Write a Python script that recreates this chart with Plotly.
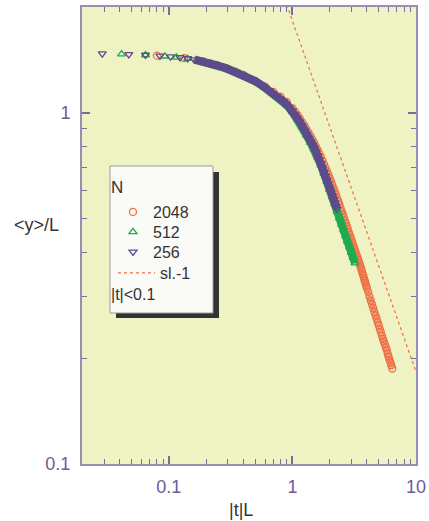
import plotly.graph_objects as go

# ---- data ----
x256 = [0.0289, 0.0474, 0.0647, 0.0845, 0.103, 0.123, 0.142, 0.161, 0.18, 0.2,
        0.22, 0.25, 0.28, 0.31, 0.35, 0.4, 0.45, 0.5, 0.55, 0.6,
        0.65, 0.7, 0.75, 0.8, 0.85, 0.9, 0.95, 1.0, 1.05, 1.1,
        1.15, 1.2, 1.25, 1.3, 1.35, 1.4, 1.45, 1.5, 1.55, 1.6,
        1.65, 1.7, 1.75, 1.8, 1.85, 1.9, 1.95, 2.0, 2.05, 2.1,
        2.15, 2.2, 2.25, 2.29]
y256 = [1.473, 1.466, 1.46, 1.452, 1.445, 1.437, 1.427, 1.417, 1.406, 1.393,
        1.381, 1.362, 1.345, 1.327, 1.305, 1.28, 1.255, 1.23, 1.205, 1.181,
        1.158, 1.136, 1.115, 1.095, 1.075, 1.055, 1.033, 1.01, 0.986, 0.962,
        0.94, 0.918, 0.893, 0.87, 0.849, 0.83, 0.812, 0.795, 0.775, 0.755,
        0.735, 0.716, 0.697, 0.678, 0.66, 0.643, 0.626, 0.61, 0.596, 0.582,
        0.568, 0.555, 0.542, 0.532]

x512 = [0.0414, 0.0647, 0.0929, 0.115, 0.142, 0.168, 0.195, 0.22, 0.25, 0.3,
        0.35, 0.4, 0.5, 0.6, 0.7, 0.8, 0.9, 1.0, 1.1, 1.2,
        1.3, 1.4, 1.5, 1.6, 1.7, 1.8, 1.9, 2.0, 2.1, 2.2,
        2.3, 2.4, 2.5, 2.6, 2.7, 2.8, 2.9, 3.0, 3.1, 3.21]
y512 = [1.468, 1.46, 1.448, 1.438, 1.425, 1.412, 1.396, 1.381, 1.362, 1.333,
        1.305, 1.278, 1.228, 1.178, 1.132, 1.09, 1.05, 1.005, 0.956, 0.91,
        0.862, 0.822, 0.787, 0.748, 0.709, 0.671, 0.637, 0.604, 0.576, 0.549,
        0.523, 0.501, 0.481, 0.463, 0.446, 0.43, 0.415, 0.4, 0.387, 0.373]

x2048 = [0.08, 0.133, 0.187, 0.24, 0.294, 0.347, 0.4, 0.5, 0.6, 0.7,
         0.8, 0.9, 1.0, 1.05, 1.1, 1.15, 1.2, 1.25, 1.3, 1.35,
         1.4, 1.45, 1.5, 1.55, 1.6, 1.65, 1.7, 1.75, 1.8, 1.85,
         1.9, 1.95, 2.0, 2.05, 2.1, 2.15, 2.2, 2.25, 2.3, 2.35,
         2.4, 2.45, 2.5, 2.55, 2.6, 2.65, 2.7, 2.75, 2.8, 2.85,
         2.9, 2.95, 3.0, 3.05, 3.1, 3.15, 3.2, 3.25, 3.3, 3.35,
         3.4, 3.45, 3.5, 3.55, 3.6, 3.65, 3.7, 3.75, 3.8, 3.85,
         3.9, 3.95, 4.0, 4.1, 4.2, 4.3, 4.4, 4.5, 4.6, 4.7,
         4.8, 4.9, 5.0, 5.1, 5.2, 5.3, 5.4, 5.5, 5.6, 5.7,
         5.8, 5.9, 6.0, 6.1, 6.2, 6.3, 6.43]
y2048 = [1.454, 1.431, 1.401, 1.368, 1.337, 1.307, 1.282, 1.232, 1.187, 1.146,
         1.111, 1.074, 1.03, 1.007, 0.985, 0.962, 0.94, 0.918, 0.897, 0.877,
         0.857, 0.838, 0.82, 0.801, 0.783, 0.765, 0.748, 0.731, 0.714, 0.698,
         0.682, 0.667, 0.652, 0.638, 0.624, 0.61, 0.597, 0.584, 0.571, 0.559,
         0.547, 0.535, 0.524, 0.514, 0.504, 0.494, 0.485, 0.476, 0.467, 0.458,
         0.45, 0.442, 0.435, 0.427, 0.42, 0.413, 0.407, 0.4, 0.394, 0.388,
         0.382, 0.376, 0.371, 0.365, 0.36, 0.354, 0.348, 0.343, 0.337, 0.332,
         0.327, 0.322, 0.317, 0.309, 0.3, 0.292, 0.285, 0.278, 0.271, 0.265,
         0.259, 0.253, 0.248, 0.242, 0.237, 0.232, 0.227, 0.223, 0.219, 0.215,
         0.211, 0.206, 0.202, 0.198, 0.195, 0.191, 0.187]

slope_x = [0.9, 10.0]
slope_y = [2.03, 0.183]

x_ticks = [0.1, 1, 10]
x_ticktext = ["0.1", "1", "10"]
y_ticks = [0.1, 1]
y_ticktext = ["0.1", "1"]
x_minor = [0.03, 0.04, 0.05, 0.06, 0.07, 0.08, 0.09,
           0.2, 0.3, 0.4, 0.5, 0.6, 0.7, 0.8, 0.9,
           2, 3, 4, 5, 6, 7, 8, 9]
y_minor = [0.2, 0.3, 0.4, 0.5, 0.6, 0.7, 0.8, 0.9]

# ---- styles ----
C_OR = "#ef6e45"
C_OR_BAND = "rgba(239,110,69,0.6)"
C_GR = "#1faa4f"
C_PU = "#5e4b8c"
AX = "#9a8db2"
TK = "#7a6c9a"
LBL = "#6b5a9a"
FONT = "Liberation Sans, Arial, sans-serif"

W, H = 429, 521
ML, MR, MT, MB = 82, 13, 7, 57
PW, PH = W - ML - MR, H - MT - MB


def px_x(p):
    return (p - ML) / PW


def px_y(p):
    return (H - MB - p) / PH


fig = go.Figure()

# slope -1 guide
fig.add_trace(go.Scatter(x=slope_x, y=slope_y, mode="lines", name="sl.-1",
                         line=dict(color=C_OR, width=1.2, dash="dot"),
                         legend="legend4"))


def band(xs, ys, start, color, width):
    fig.add_trace(go.Scatter(x=xs[start:], y=ys[start:], mode="lines",
                             line=dict(color=color, width=width),
                             showlegend=False, hoverinfo="skip"))


band(x2048, y2048, 2, C_OR_BAND, 5)
fig.add_trace(go.Scatter(x=x2048, y=y2048, mode="markers", name="2048",
                         marker=dict(symbol="circle-open", size=7, color=C_OR,
                                     line=dict(width=1.3, color=C_OR)),
                         legend="legend"))
band(x512, y512, 5, C_GR, 8)
fig.add_trace(go.Scatter(x=x512, y=y512, mode="markers", name="512",
                         marker=dict(symbol="triangle-up-open", size=7, color=C_GR,
                                     line=dict(width=1.3, color=C_GR)),
                         legend="legend2"))
band(x256, y256, 7, C_PU, 8)
fig.add_trace(go.Scatter(x=x256, y=y256, mode="markers", name="256",
                         marker=dict(symbol="triangle-down-open", size=7, color=C_PU,
                                     line=dict(width=1.3, color=C_PU)),
                         legend="legend3"))

# legend box with shadow (paper coordinates)
fig.add_shape(type="rect", xref="paper", yref="paper", x0=px_x(116), x1=px_x(219),
              y0=px_y(318), y1=px_y(172), fillcolor="#333333", line=dict(width=0), layer="above")
fig.add_shape(type="rect", xref="paper", yref="paper", x0=px_x(110), x1=px_x(213),
              y0=px_y(313), y1=px_y(166), fillcolor="#fafaf7", line=dict(color="#9a9a9a", width=1),
              layer="above")

fig.add_annotation(text="N", xref="paper", yref="paper", x=px_x(109), y=px_y(187),
                   xanchor="left", yanchor="middle", showarrow=False,
                   font=dict(family=FONT, size=17, color="#333333"))
fig.add_annotation(text="|t|<0.1", xref="paper", yref="paper", x=px_x(109), y=px_y(294),
                   xanchor="left", yanchor="middle", showarrow=False,
                   font=dict(family=FONT, size=16, color="#333333"))
fig.add_annotation(text="&lt;y&gt;/L", xref="paper", yref="paper", x=px_x(36),
                   y=px_y(225), xanchor="center", yanchor="middle", showarrow=False,
                   font=dict(family=FONT, size=18, color="#333333"))
fig.add_annotation(text="|t|L", xref="paper", yref="paper", x=px_x(241),
                   y=px_y(510), xanchor="center", yanchor="middle", showarrow=False,
                   font=dict(family=FONT, size=18, color="#333333"))

axis_common = dict(type="log", showgrid=False, zeroline=False, showline=True,
                   linecolor=AX, linewidth=2, mirror="allticks", ticks="inside",
                   ticklen=8, tickwidth=1.5, tickcolor=TK, automargin=False,
                   tickfont=dict(family=FONT, size=18, color=LBL))

fig.update_xaxes(**axis_common, range=[-1.703, 1.0], tickmode="array",
                 tickvals=x_ticks, ticktext=x_ticktext, ticklabelstandoff=5,
                 minor=dict(tickmode="array", tickvals=x_minor, ticks="inside",
                            ticklen=5, tickwidth=1.2, tickcolor=TK, showgrid=False))
fig.update_yaxes(**axis_common, range=[-1.0, 0.301], tickmode="array",
                 tickvals=y_ticks, ticktext=y_ticktext, ticklabelstandoff=6,
                 minor=dict(tickmode="array", tickvals=y_minor, ticks="inside",
                            ticklen=5, tickwidth=1.2, tickcolor=TK, showgrid=False))

leg_common = dict(xanchor="left", yanchor="top", bgcolor="rgba(0,0,0,0)",
                  borderwidth=0, font=dict(family=FONT, size=16, color="#333333"))
OFF = 16
fig.update_layout(
    width=W, height=H,
    margin=dict(l=ML, r=MR, t=MT, b=MB),
    paper_bgcolor="white", plot_bgcolor="#eff2c3",
    font=dict(family=FONT, color="#333333"),
    showlegend=True,
    legend=dict(x=px_x(113), y=px_y(211 - OFF), **leg_common),
    legend2=dict(x=px_x(113), y=px_y(231 - OFF), **leg_common),
    legend3=dict(x=px_x(113), y=px_y(251 - OFF), **leg_common),
    legend4=dict(x=px_x(113), y=px_y(272 - OFF), itemwidth=37, **leg_common),
)

fig.write_html("out.html")
